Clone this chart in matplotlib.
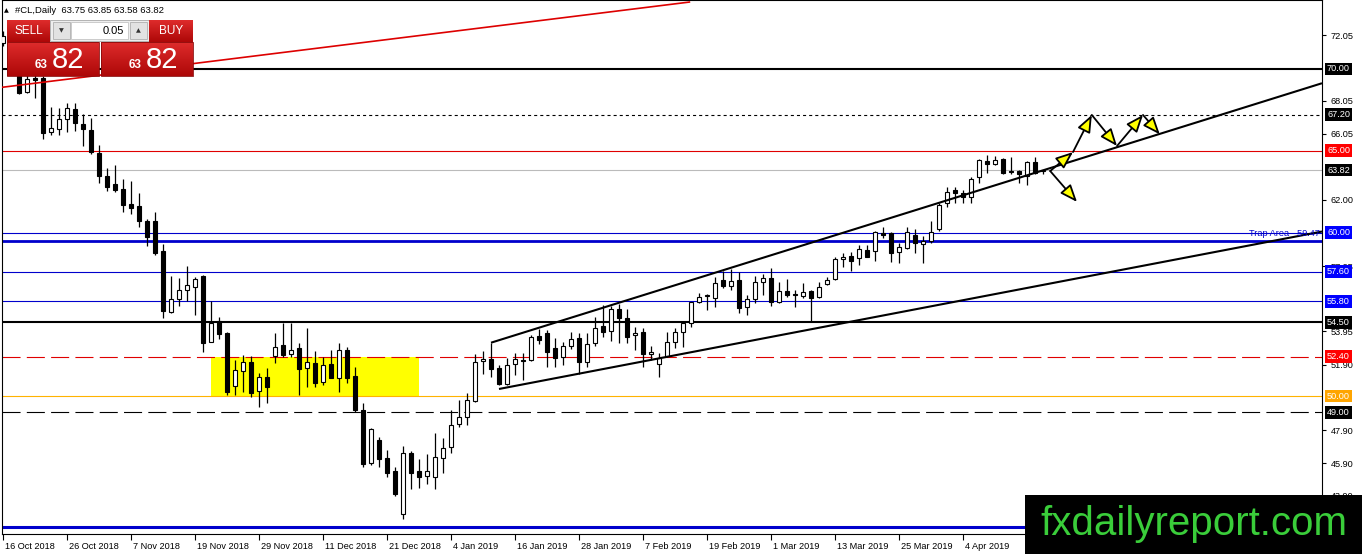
import matplotlib
matplotlib.use('Agg')
import matplotlib.pyplot as plt
import matplotlib.transforms as mtransforms
from matplotlib.patches import Rectangle
import numpy as np

plt.rcParams['font.family'] = ['Liberation Sans', 'DejaVu Sans']
plt.rcParams['lines.scale_dashes'] = False

W, H = 1362, 554

# daily bars, bar 0 = 16 Oct 2018, last bar = current one
opens = [71.6, 72.0, 69.9, 68.61, 69.45, 69.43, 66.13, 66.31, 66.92, 67.54,
         66.64, 66.27, 64.84, 63.46, 62.97, 62.68, 61.74, 61.62, 60.72, 60.70,
         58.87, 55.16, 55.95, 56.48, 56.69, 57.34, 53.32, 54.59, 53.83, 50.61,
         51.53, 52.06, 50.31, 51.18, 52.45, 53.12, 52.55, 52.92, 51.69, 52.0,
         50.84, 51.94, 51.12, 52.81, 51.22, 49.14, 45.88, 47.31, 46.19, 45.41,
         42.76, 46.53, 45.41, 45.13, 45.07, 46.19, 46.88, 48.29, 48.72, 49.69,
         52.14, 52.24, 51.69, 50.71, 51.94, 52.2, 52.2, 53.69, 53.83, 52.92,
         52.4, 53.06, 53.53, 52.06, 53.26, 54.28, 53.98, 55.30, 54.79, 53.73,
         53.9, 52.57, 51.96, 52.45, 53.28, 53.9, 54.49, 55.73, 56.12, 55.98,
         57.09, 56.75, 57.09, 55.42, 55.91, 56.95, 57.2, 55.77, 56.42, 56.22,
         56.14, 56.42, 56.08, 56.83, 57.14, 58.37, 58.57, 58.42, 58.93, 58.89,
         59.95, 59.95, 58.83, 59.07, 59.85, 59.3, 59.48, 60.2, 61.83, 62.6,
         62.44, 62.15, 63.38, 64.37, 64.17, 64.5, 63.76, 63.78, 63.46, 64.29,
         63.75]
highs = [72.3, 72.1, 70.2, 69.8, 69.7, 69.6, 67.69, 67.6, 67.9, 67.94,
         67.25, 66.98, 65.35, 63.96, 64.13, 63.27, 63.17, 62.4, 60.81, 61.24,
         59.28, 57.34, 57.2, 57.95, 57.3, 57.38, 55.83, 54.81, 53.9, 52.2,
         52.51, 52.45, 51.39, 51.73, 53.83, 54.45, 54.45, 53.22, 54.14, 52.75,
         52.4, 52.81, 53.22, 53.02, 51.8, 49.55, 48.02, 47.47, 46.7, 45.68,
         46.94, 46.66, 46.13, 46.45, 47.72, 47.41, 49.14, 49.76, 50.21, 52.57,
         52.77, 53.26, 51.9, 52.31, 52.65, 52.61, 53.73, 54.08, 54.04, 53.53,
         53.32, 53.89, 53.83, 53.83, 54.85, 55.57, 55.5, 55.61, 55.3, 54.24,
         54.14, 53.06, 52.61, 53.94, 54.14, 54.55, 55.77, 56.32, 56.24, 57.26,
         57.66, 57.75, 57.59, 56.18, 57.36, 57.46, 57.81, 56.99, 57.16, 56.48,
         56.93, 56.48, 56.95, 57.26, 58.49, 58.73, 58.83, 59.24, 59.24, 60.11,
         60.32, 60.01, 59.34, 60.36, 60.2, 59.79, 60.73, 61.79, 62.77, 62.77,
         62.6, 63.41, 64.5, 64.74, 64.68, 64.55, 64.6, 63.8, 64.37, 64.6,
         63.85]
lows = [71.4, 69.7, 68.47, 68.51, 68.2, 65.7, 65.96, 65.96, 66.17, 66.23,
        65.31, 64.78, 63.05, 62.56, 62.5, 61.27, 61.13, 60.35, 59.19, 58.62,
        54.75, 55.06, 55.5, 55.83, 54.95, 52.71, 53.3, 53.47, 50.06, 50.06,
        50.26, 49.96, 49.35, 49.6, 52.0, 52.4, 52.4, 50.06, 50.53, 50.53,
        50.67, 51.33, 50.26, 50.78, 49.04, 45.68, 45.8, 45.64, 45.07, 43.88,
        42.46, 44.29, 44.35, 44.62, 44.29, 45.31, 46.53, 48.08, 48.25, 49.66,
        51.35, 51.14, 50.67, 50.67, 51.28, 50.98, 52.15, 53.18, 51.75, 51.8,
        51.9, 52.86, 51.35, 51.8, 53.06, 53.63, 53.36, 53.22, 53.22, 52.81,
        51.8, 52.2, 51.18, 52.37, 52.92, 53.02, 54.2, 55.67, 55.26, 55.46,
        56.59, 56.48, 55.06, 54.95, 55.67, 56.18, 55.5, 55.7, 56.04, 55.42,
        55.98, 54.55, 55.98, 56.8, 57.1, 57.91, 57.66, 58.01, 58.5, 58.28,
        59.64, 58.22, 58.11, 59.0, 58.76, 58.15, 59.38, 60.1, 61.58, 61.83,
        61.83, 61.79, 63.05, 63.62, 64.1, 63.58, 63.6, 63.05, 62.9, 63.58,
        63.58]
closes = [72.0, 69.9, 68.55, 69.37, 69.3, 66.07, 66.37, 66.92, 67.6, 66.68,
          66.31, 64.94, 63.47, 62.80, 62.60, 61.68, 61.52, 60.70, 59.74, 58.76,
          55.22, 55.91, 56.48, 56.77, 57.16, 53.26, 54.45, 53.77, 50.26, 51.59,
          52.06, 50.21, 51.18, 50.53, 53.02, 52.51, 52.81, 51.63, 52.10, 50.82,
          51.88, 51.12, 52.81, 51.12, 49.14, 45.84, 47.96, 46.13, 45.31, 43.99,
          46.53, 45.31, 45.07, 45.41, 46.25, 46.80, 48.25, 48.72, 49.76, 52.10,
          52.24, 51.63, 50.71, 51.90, 52.24, 52.15, 53.63, 53.43, 52.71, 52.31,
          53.06, 53.47, 52.10, 53.18, 54.14, 53.93, 55.30, 54.79, 53.63, 53.83,
          52.55, 52.71, 52.31, 53.32, 53.90, 54.45, 55.77, 56.04, 56.18, 56.89,
          56.75, 57.03, 55.36, 55.91, 56.99, 57.20, 55.77, 56.42, 56.18, 56.16,
          56.34, 55.98, 56.69, 57.09, 58.38, 58.49, 58.28, 58.97, 58.52, 60.05,
          59.85, 58.76, 59.10, 60.01, 59.34, 59.48, 60.05, 61.68, 62.5, 62.44,
          62.15, 63.27, 64.43, 64.19, 64.43, 63.66, 63.68, 63.58, 64.29, 63.66,
          63.82]

date_ticks = [0, 8, 16, 24, 32, 40, 48, 56, 64, 72, 80, 88, 96, 104, 112, 120]
date_labels = ['16 Oct 2018', '26 Oct 2018', '7 Nov 2018', '19 Nov 2018',
               '29 Nov 2018', '11 Dec 2018', '21 Dec 2018', '4 Jan 2019',
               '16 Jan 2019', '28 Jan 2019', '7 Feb 2019', '19 Feb 2019',
               '1 Mar 2019', '13 Mar 2019', '25 Mar 2019', '4 Apr 2019']
price_ticks = [72.05, 68.05, 66.05, 62.00, 57.95, 53.95, 51.90, 47.90, 45.90, 43.90]

# horizontal levels
level_prices = [70.00, 67.20, 65.00, 63.82, 60.00, 59.47, 57.60, 55.80, 54.50,
                52.40, 50.00, 49.00, 42.00]
labelled = [70.00, 67.20, 65.00, 63.82, 60.00, 57.60, 55.80, 54.50, 52.40, 50.00, 49.00]
trap_level = 59.47

# box of the sideways zone (bar from, bar to, price low, price high)
zone = (26, 52, 50.00, 52.40)

# trend lines as (bar, price) pairs
red_line = [(-0.125, 68.88), (85.9, 74.1)]
upper_line = [(61, 53.26), (164.875, 69.13)]
lower_line = [(62, 50.43), (164.875, 60.06)]

# projected path arrows (bar0, price0, bar1, price1)
arrow_paths = [(130.9, 63.76, 133.75, 64.92),
               (133.75, 64.92, 136.1, 67.19),
               (136.1, 67.19, 139.25, 65.29),
               (139.25, 65.29, 142.5, 67.19),
               (142.5, 67.19, 144.6, 66.0),
               (130.9, 63.76, 134.25, 61.87)]

BLUE = '#0000CC'
RED = '#E00000'
level_style = {
    70.00: dict(color='black', lw=1.5, ls='-'),
    67.20: dict(color='black', lw=0.8, ls=(0, (2.2, 2.2))),
    65.00: dict(color=RED, lw=0.8, ls='-'),
    63.82: dict(color='#BBBBBB', lw=0.8, ls='-'),
    60.00: dict(color=BLUE, lw=0.8, ls='-'),
    59.47: dict(color=BLUE, lw=2.0, ls='-'),
    57.60: dict(color=BLUE, lw=0.8, ls='-'),
    55.80: dict(color=BLUE, lw=0.8, ls='-'),
    54.50: dict(color='black', lw=1.5, ls='-'),
    52.40: dict(color=RED, lw=0.8, ls=(0, (13, 4.5))),
    50.00: dict(color='#FFB300', lw=0.8, ls='-'),
    49.00: dict(color='black', lw=0.8, ls=(0, (13, 4.5))),
    42.00: dict(color=BLUE, lw=2.2, ls='-'),
}
label_bg = {70.00: 'black', 67.20: 'black', 65.00: '#FF0000', 63.82: 'black',
            60.00: '#0000FF', 57.60: '#0000FF', 55.80: '#0000FF', 54.50: 'black',
            52.40: '#FF0000', 50.00: '#FFA500', 49.00: 'black'}

fig = plt.figure(figsize=(W / 100, H / 100), dpi=100)
ax = fig.add_axes([2 / W, 20 / H, 1320 / W, 534 / H])
ax.set_xlim(-0.125, 164.875)
ax.set_ylim(41.56, 74.22)

for s in ax.spines.values():
    s.set_linewidth(0.8)
    s.set_color('black')

# zone box
ax.add_patch(Rectangle((zone[0], zone[2]), zone[1] - zone[0], zone[3] - zone[2],
                       facecolor='#FFFF00', edgecolor='none', zorder=1))

for p in level_prices:
    st = level_style[p]
    ax.axhline(p, color=st['color'], lw=st['lw'], linestyle=st['ls'], zorder=2)

# candles
o = np.array(opens)
h = np.array(highs)
l = np.array(lows)
c = np.array(closes)
x = np.arange(len(o))
up = c >= o
ax.vlines(x, l, h, color='black', lw=0.9, zorder=3)
body_lo = np.minimum(o, c)
body_h = np.maximum(np.abs(c - o), 0.04)
ax.bar(x[up], body_h[up], bottom=body_lo[up], width=0.62, color='white',
       edgecolor='black', linewidth=0.8, zorder=4)
ax.bar(x[~up], body_h[~up], bottom=body_lo[~up], width=0.62, color='black',
       edgecolor='black', linewidth=0.8, zorder=4)

# trend lines
for pts, col, lw in [(red_line, '#DD0000', 1.2), (upper_line, 'black', 1.5),
                     (lower_line, 'black', 1.5)]:
    ax.plot([pts[0][0], pts[1][0]], [pts[0][1], pts[1][1]], color=col, lw=lw,
            zorder=5, solid_capstyle='butt')

for x0, y0, x1, y1 in arrow_paths:
    ax.annotate('', xy=(x1, y1), xytext=(x0, y0),
                arrowprops=dict(arrowstyle='-|>,head_length=0.75,head_width=0.3',
                                facecolor='#FFFF00', edgecolor='black', lw=1.3,
                                shrinkA=0, shrinkB=0, mutation_scale=14),
                zorder=6, annotation_clip=False)

# axes ticks
ax.yaxis.tick_right()
ax.set_yticks(price_ticks)
ax.set_yticklabels([f'{v:.2f}' for v in price_ticks])
ax.tick_params(axis='y', direction='out', length=3, width=0.8, labelsize=6.6, pad=3)
ax.set_xticks(date_ticks)
ax.set_xticklabels(date_labels)
ax.tick_params(axis='x', direction='out', length=4, width=0.8, labelsize=6.6, pad=2)
shift = mtransforms.ScaledTranslation(2 / 100, 0, fig.dpi_scale_trans)
for lbl in ax.get_xticklabels():
    lbl.set_horizontalalignment('left')
    lbl.set_transform(lbl.get_transform() + shift)

# price labels on the right
lab_trans = mtransforms.offset_copy(ax.get_yaxis_transform(), fig=fig, x=5, y=0, units='dots')
for p in labelled:
    ax.text(1.0, p, f'{p:.2f}', transform=lab_trans, ha='left', va='center',
            color='white', fontsize=6.6, clip_on=False, zorder=8,
            bbox=dict(boxstyle='square,pad=0.2', fc=label_bg[p], ec='none'))

trap_trans = mtransforms.offset_copy(ax.get_yaxis_transform(), fig=fig, x=-2, y=3, units='dots')
ax.text(1.0, trap_level, f'Trap Area - {trap_level:.2f}', transform=trap_trans,
        ha='right', va='bottom', color=BLUE, fontsize=6.6, zorder=8)


# ---- overlays in pixel coordinates (top-left origin) ----
def px_rect(x0, y0, x1, y1, **kw):
    fig.add_artist(Rectangle((x0 / W, 1 - y1 / H), (x1 - x0) / W, (y1 - y0) / H,
                             transform=fig.transFigure, **kw))


def px_text(xp, yp, s, **kw):
    fig.text(xp / W, 1 - yp / H, s, **kw)


def red_block(x0, y0, x1, y1):
    # vertical red gradient, lighter on top
    n = y1 - y0
    t = np.linspace(0, 1, n)[:, None]
    top = np.array([0.87, 0.17, 0.17])
    bot = np.array([0.68, 0.03, 0.03])
    col = top + (bot - top) * t
    img = np.repeat(col[:, None, :], x1 - x0, axis=1)
    fig.figimage(img, xo=x0, yo=H - y1, origin='upper', zorder=20)


# header
px_text(4, 10.5, '▲', fontsize=4.5, va='center', ha='left', zorder=20,
        family=['DejaVu Sans'])
px_text(15, 10.5, '#CL,Daily  63.75 63.85 63.58 63.82', fontsize=6.8,
        va='center', ha='left', zorder=20)

# one click trading panel
red_block(7, 20, 50, 42)
red_block(149, 20, 193, 42)
red_block(7, 42, 99, 76)
red_block(101, 42, 193, 76)
px_rect(7, 42, 99, 76, fc='none', ec='#8A0A0A', lw=0.6, zorder=21)
px_rect(101, 42, 193, 76, fc='none', ec='#8A0A0A', lw=0.6, zorder=21)
px_rect(50, 20, 149, 41, fc='#EEEEEE', ec='#A8A8A8', lw=0.6, zorder=20)
px_rect(53, 22, 70, 39, fc='#E2E2E2', ec='#B0B0B0', lw=0.6, zorder=21)
px_rect(71, 22, 128, 39, fc='white', ec='#C4C4C4', lw=0.6, zorder=21)
px_rect(130, 22, 147, 39, fc='#E2E2E2', ec='#B0B0B0', lw=0.6, zorder=21)
px_text(28.5, 31, 'SELL', color='white', fontsize=8.5, ha='center', va='center', zorder=22)
px_text(171, 31, 'BUY', color='white', fontsize=8.5, ha='center', va='center', zorder=22)
px_text(61.5, 30.5, '▼', color='#333333', fontsize=4.5, ha='center', va='center',
        zorder=22, family=['DejaVu Sans'])
px_text(138.5, 30.5, '▲', color='#333333', fontsize=4.5, ha='center', va='center',
        zorder=22, family=['DejaVu Sans'])
px_text(124, 30.5, '0.05', color='black', fontsize=8, ha='right', va='center', zorder=22)
for bx in (0, 94):
    px_text(35 + bx, 68, '63', color='white', fontsize=8.5, fontweight='bold',
            ha='left', va='baseline', zorder=22)
    px_text(52 + bx, 68, '82', color='white', fontsize=21, ha='left',
            va='baseline', zorder=22)

# watermark box
px_rect(1025, 495, 1362, 554, fc='black', ec='none', zorder=30)
px_text(1194, 535, 'fxdailyreport.com', color='#3ACD3A', fontsize=29,
        ha='center', va='baseline', zorder=31)

fig.savefig('out.png', dpi=100)
